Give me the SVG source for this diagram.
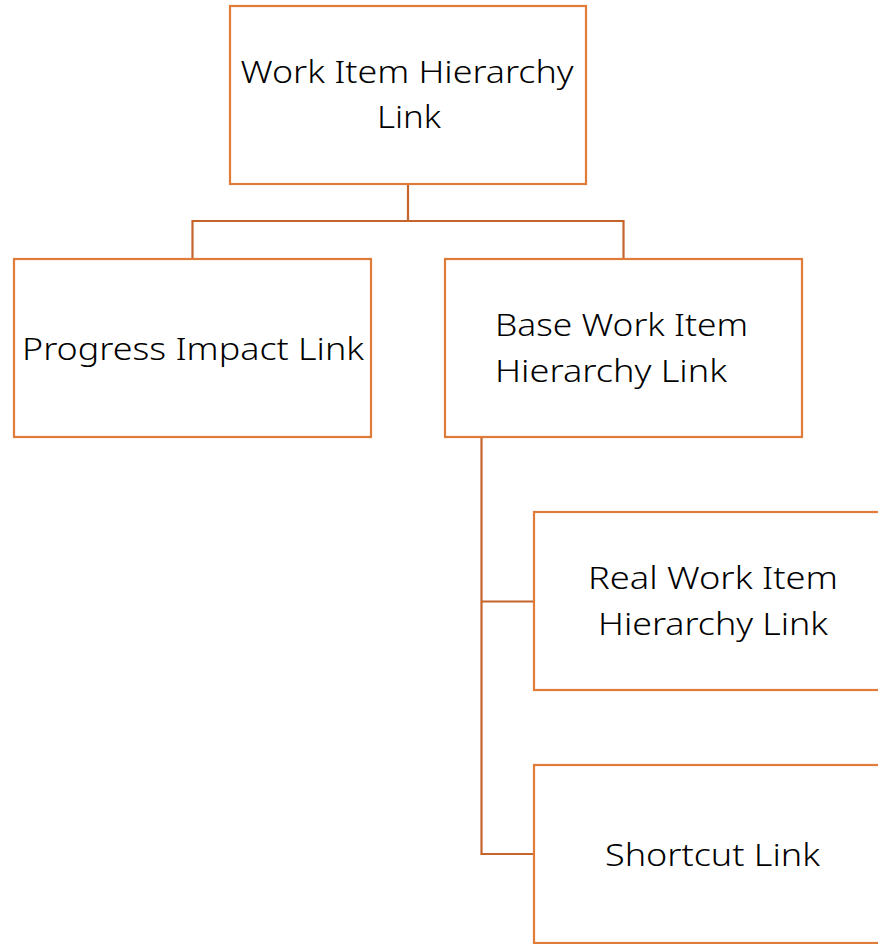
<svg xmlns="http://www.w3.org/2000/svg" width="878" height="944" viewBox="0 0 878 944">
<style>
.box{fill:#ffffff;stroke:#E07B39;stroke-width:2.2}
.conn{fill:none;stroke:#C5652B;stroke-width:2.2}
.t{font-family:"Noto Sans",Lato,"Liberation Sans",sans-serif;font-weight:300;font-size:32px;fill:#000000}
.c{text-anchor:middle}
</style>
<rect width="878" height="944" fill="#ffffff"/>
<g id="connectors">
<path class="conn" d="M408,184 V221 M192.5,259 V221 H623.5 V259"/>
<path class="conn" d="M481.5,437 V854 H534 M481.5,601.5 H534"/>
</g>
<g id="root">
<rect class="box" x="230" y="6" width="356" height="178"/>
<text class="t c" x="407" y="83" textLength="333" lengthAdjust="spacingAndGlyphs">Work Item Hierarchy</text>
<text class="t c" x="409" y="128" textLength="64" lengthAdjust="spacingAndGlyphs">Link</text>
</g>
<g id="progress">
<rect class="box" x="14" y="259" width="357" height="178"/>
<text class="t c" x="193" y="360" textLength="342" lengthAdjust="spacingAndGlyphs">Progress Impact Link</text>
</g>
<g id="base">
<rect class="box" x="445" y="259" width="357" height="178"/>
<text class="t" x="495" y="336" textLength="253" lengthAdjust="spacingAndGlyphs">Base Work Item</text>
<text class="t" x="495" y="382" textLength="232" lengthAdjust="spacingAndGlyphs">Hierarchy Link</text>
</g>
<g id="real">
<rect class="box" x="534" y="512" width="357" height="178"/>
<text class="t c" x="713" y="589" textLength="250" lengthAdjust="spacingAndGlyphs">Real Work Item</text>
<text class="t c" x="713" y="635" textLength="230" lengthAdjust="spacingAndGlyphs">Hierarchy Link</text>
</g>
<g id="shortcut">
<rect class="box" x="534" y="765" width="357" height="178"/>
<text class="t c" x="712.5" y="866" textLength="215" lengthAdjust="spacingAndGlyphs">Shortcut Link</text>
</g>
</svg>
